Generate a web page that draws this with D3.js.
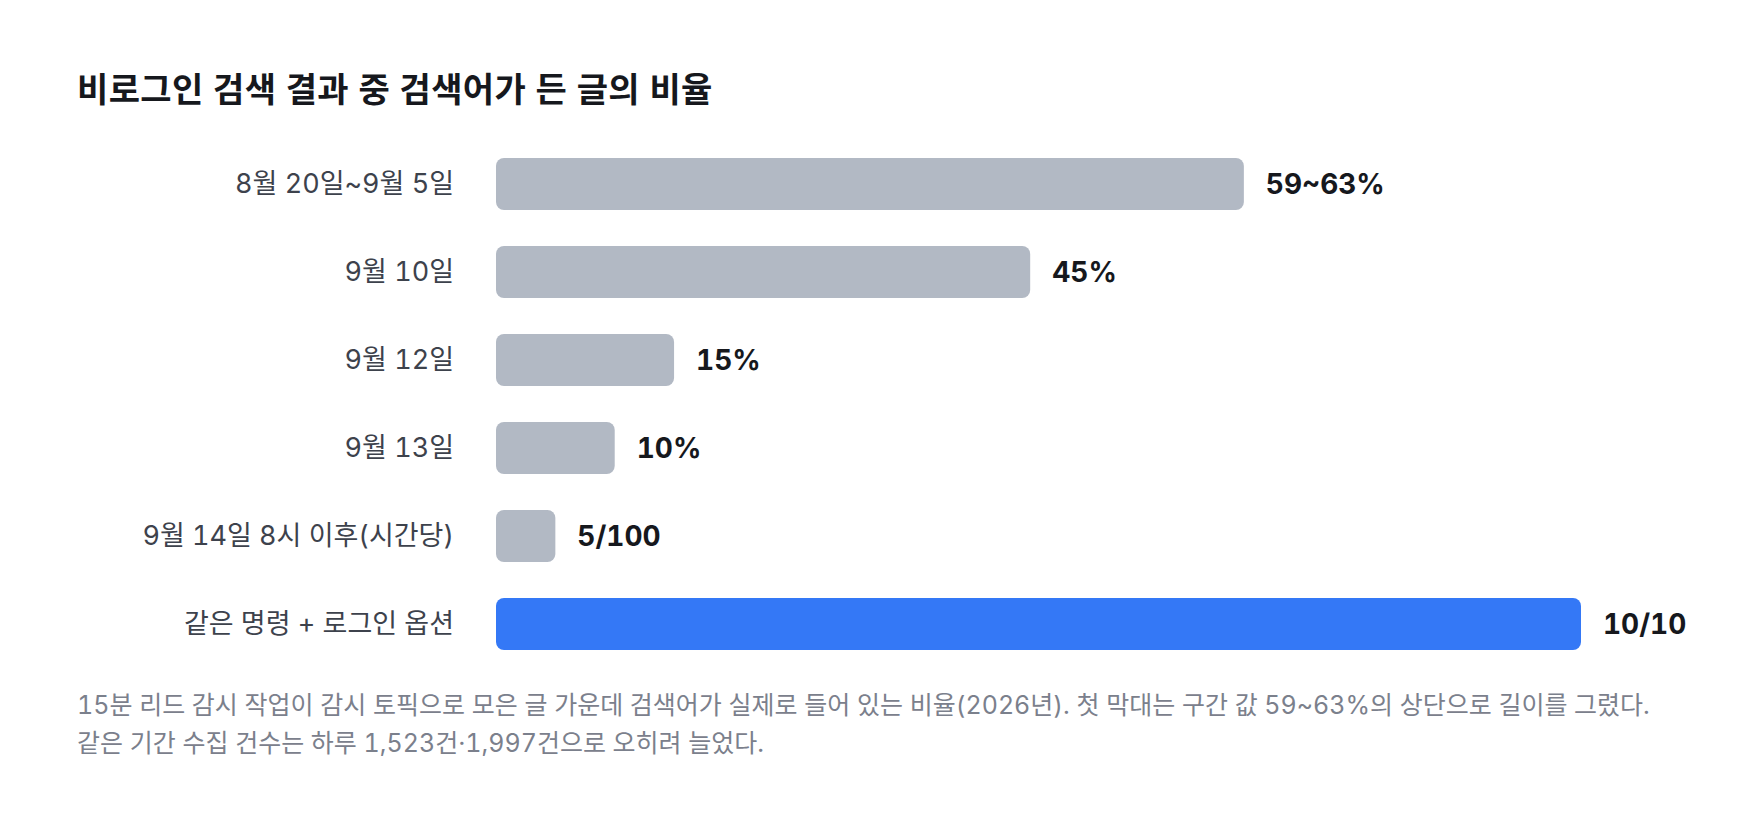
<!DOCTYPE html>
<html lang="ko">
<head>
<meta charset="utf-8">
<script src="https://cdn.jsdelivr.net/npm/d3@7"></script>
<style>
  html, body { margin: 0; padding: 0; background: #fff; }
  svg { display: block; }
  text { font-family: Inter, "Noto Sans CJK KR", sans-serif; font-variant-numeric: tabular-nums; }
</style>
</head>
<body>
<svg id="chart" width="1760" height="826"></svg>
<script>
const title = "비로그인 검색 결과 중 검색어가 든 글의 비율";
const categories = ["8월 20일~9월 5일", "9월 10일", "9월 12일", "9월 13일", "9월 14일 8시 이후(시간당)", "같은 명령 + 로그인 옵션"];
const values = [63, 45, 15, 10, 5, 100];
const valueLabels = ["59~63%", "45%", "15%", "10%", "5/100", "10/10"];
const highlight = [false, false, false, false, false, true];
const captionLines = [
  "15분 리드 감시 작업이 감시 토픽으로 모은 글 가운데 검색어가 실제로 들어 있는 비율(2026년). 첫 막대는 구간 값 59~63%의 상단으로 길이를 그렸다.",
  "같은 기간 수집 건수는 하루 1,523건·1,997건으로 오히려 늘었다."
];
const xDomainMax = 91.4;

const svg = d3.select("#chart");

svg.append("text")
  .attr("x", 77).attr("y", 102)
  .attr("font-size", 34).attr("font-weight", 700)
  .attr("letter-spacing", 0.35)
  .attr("fill", "#16181d")
  .text(title);

const x = d3.scaleLinear().domain([0, xDomainMax]).range([496, 1581]).clamp(true);
const y = d3.scaleBand().domain(categories).range([140, 668])
  .paddingInner(36 / 88).paddingOuter(18 / 88);

const rows = svg.append("g").selectAll("g").data(categories).join("g");

rows.append("rect")
  .attr("x", x(0))
  .attr("y", d => y(d))
  .attr("height", y.bandwidth())
  .attr("width", (d, i) => x(values[i]) - x(0))
  .attr("rx", 8).attr("ry", 8)
  .attr("fill", (d, i) => highlight[i] ? "#3478f6" : "#b2b9c4");

rows.append("text")
  .attr("x", 454)
  .attr("y", d => y(d) + y.bandwidth() / 2)
  .attr("dy", "0.35em")
  .attr("text-anchor", "end")
  .attr("font-size", 27)
  .attr("fill", "#3d424c")
  .text(d => d);

rows.append("text")
  .attr("x", (d, i) => x(values[i]) + 22)
  .attr("y", d => y(d) + y.bandwidth() / 2)
  .attr("dy", "0.36em")
  .attr("font-size", 28)
  .attr("font-weight", 700)
  .attr("fill", "#16181d")
  .text((d, i) => valueLabels[i]);

svg.append("g").selectAll("text").data(captionLines).join("text")
  .attr("x", 77)
  .attr("y", (d, i) => 714 + i * 38)
  .attr("font-size", 25)
  .attr("fill", "#7b808c")
  .text(d => d);
</script>
</body>
</html>
